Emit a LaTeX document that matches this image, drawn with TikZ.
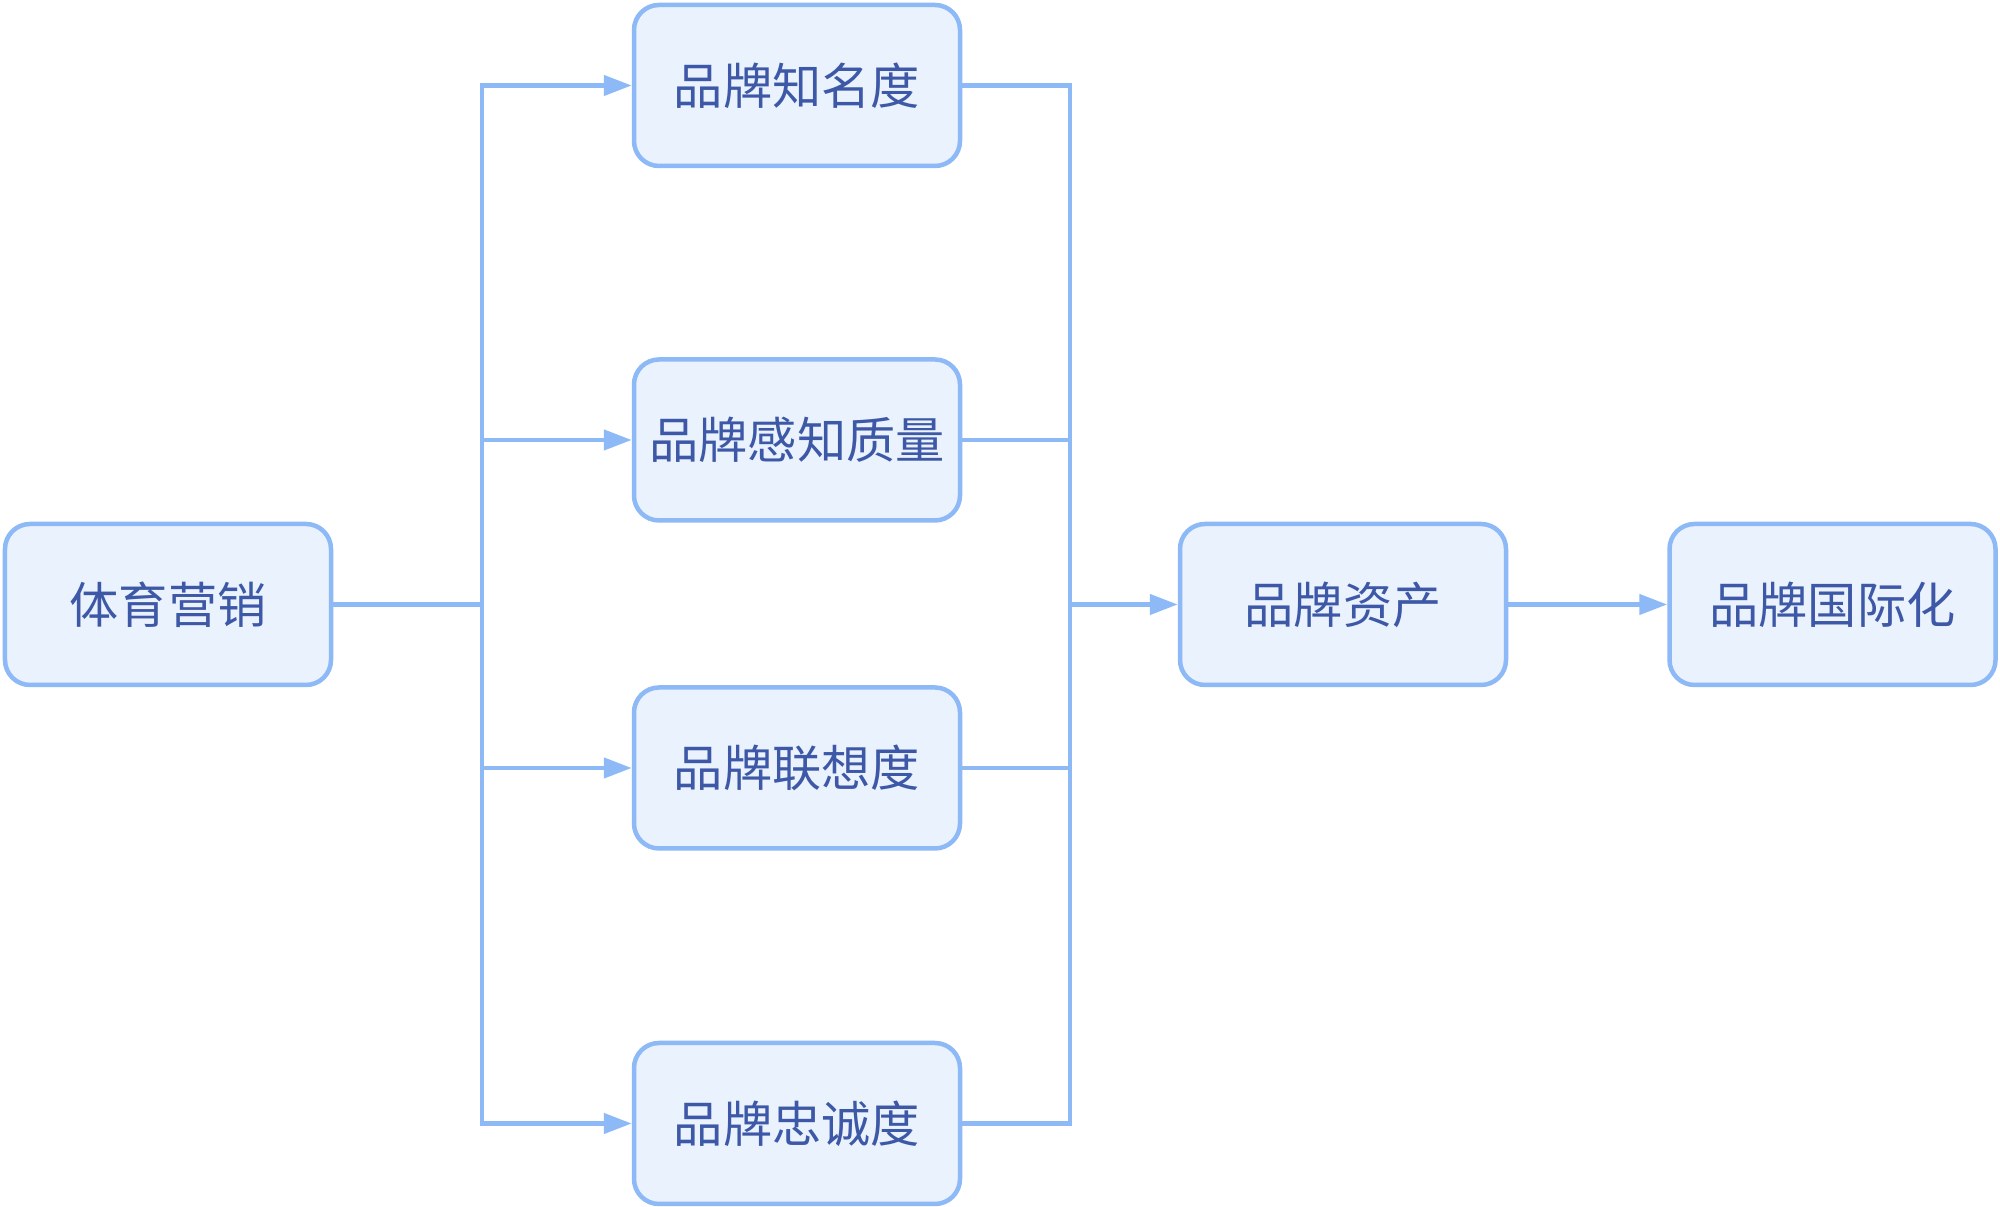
\documentclass[tikz,border=0pt]{standalone}
\usepackage{fontspec}
\newfontfamily\cjk{Noto Sans CJK SC}
\usetikzlibrary{arrows.meta}
\definecolor{edgeblue}{HTML}{8DB9F7}
\definecolor{boxfill}{HTML}{EAF2FD}
\definecolor{txtblue}{HTML}{3D58A6}
\tikzset{
  boxnode/.style={draw=edgeblue, fill=boxfill, line width=0.045cm, rounded corners=0.25cm,
    minimum width=3.26cm, minimum height=1.61cm, inner sep=0pt,
    text=txtblue, font=\cjk\fontsize{14}{16}\selectfont},
  conn/.style={draw=edgeblue, line width=0.045cm},
  arr/.style={conn, -{Triangle[length=0.28cm,width=0.2cm]}}
}
\begin{document}
\begin{tikzpicture}
\useasboundingbox (0,0) rectangle (20,12.07);
\node[boxnode] (A) at (1.68,6.025) {体育营销};
\node[boxnode] (B1) at (7.97,11.215) {品牌知名度};
\node[boxnode] (B2) at (7.97,7.67) {品牌感知质量};
\node[boxnode] (B3) at (7.97,4.39) {品牌联想度};
\node[boxnode] (B4) at (7.97,0.835) {品牌忠诚度};
\node[boxnode] (C) at (13.43,6.025) {品牌资产};
\node[boxnode] (D) at (18.325,6.025) {品牌国际化};
\coordinate (busL) at (4.82,6.025);
\coordinate (busR) at (10.70,6.025);
% left bus
\draw[arr] (A.east) -- (busL) |- (B1.west);
\draw[arr] (A.east) -- (busL) |- (B4.west);
\draw[arr] (B2.west -| busL) -- (B2.west);
\draw[arr] (B3.west -| busL) -- (B3.west);
% right bus
\draw[conn] (B1.east) -| (B4.east -| busR) -- (B4.east);
\draw[conn] (B2.east) -- (B2.east -| busR);
\draw[conn] (B3.east) -- (B3.east -| busR);
\draw[arr] (busR) -- (C.west);
\draw[arr] (C.east) -- (D.west);
\end{tikzpicture}
\end{document}
